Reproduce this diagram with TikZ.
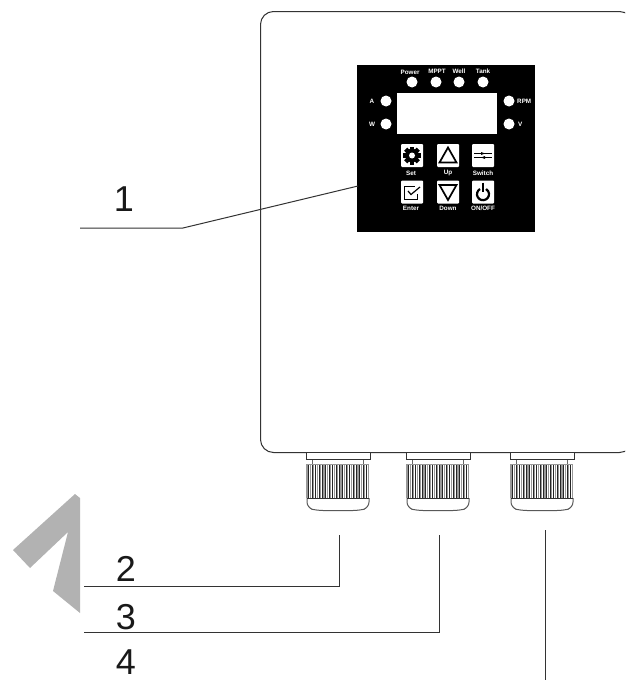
\documentclass[tikz,border=0pt]{standalone}
\usepackage{fontspec}
\setmainfont{Liberation Sans}
\usetikzlibrary{calc}
\definecolor{linegray}{gray}{0.2}
\definecolor{knurlgray}{gray}{0.6}
\tikzstyle{leader} = [line width=1pt, draw=linegray]
\tikzstyle{outline} = [line width=1pt, draw=black!80]
\tikzstyle{led} = [circle, fill=white, inner sep=0pt, minimum size=11pt]
\tikzstyle{button} = [rectangle, rounded corners=1pt, fill=white, inner sep=0pt, minimum width=22pt, minimum height=23pt]
\tikzstyle{paneltext} = [text=white, font=\fontsize{6.3}{6.3}\selectfont\bfseries, inner sep=0pt]
\tikzstyle{number} = [text=black!90, font=\fontsize{36}{36}\selectfont, inner sep=0pt]
\tikzstyle{flange} = [rectangle, outline, fill=white, inner sep=0pt, minimum width=64pt, minimum height=7pt]
\begin{document}
\begin{tikzpicture}[x=1pt, y=-1pt]
    \useasboundingbox (0,0) rectangle (625,680);

    %watermark
    \fill [black!30] (75,494) -- (80,498) -- (80,613) -- (53,591) -- (68,532) -- (30,568) -- (13,550) -- cycle;

    %housing
    \begin{scope}
    \clip (0,0) rectangle (625,680);
    \node (housing) [outline, draw, rounded corners=13pt, minimum width=372pt, minimum height=441pt, anchor=north west, inner sep=0pt] at (260,11) {};
    \end{scope}

    %panel
    \node (panel) [rectangle, fill=black, inner sep=0pt, minimum width=178pt, minimum height=167pt, anchor=north west] at (357,65) {};
    \node (display) [rectangle, fill=white, inner sep=0pt, minimum width=100pt, minimum height=41pt, anchor=north west] at (397,93) {};

    %leds
    \node (ledpower) [led] at (412,82) {};
    \node (ledmppt) [led] at (436,82) {};
    \node (ledwell) [led] at (459,82) {};
    \node (ledtank) [led] at (483,82) {};
    \node (leda) [led] at (386,101) {};
    \node (ledw) [led] at (386,124) {};
    \node (ledrpm) [led] at (509,101) {};
    \node (ledv) [led] at (509,124) {};
    \node [paneltext] at (410,72) {Power};
    \node [paneltext] at (437,71.5) {MPPT};
    \node [paneltext] at (459,71) {Well};
    \node [paneltext] at (483,71) {Tank};
    \node [paneltext] at (372,101) {A};
    \node [paneltext] at (372,124) {W};
    \node [paneltext, anchor=west] at (517,101) {RPM};
    \node [paneltext, anchor=west] at (518,124) {V};

    %buttons
    \node (btnset) [button] at (412,155.5) {};
    \node (btnup) [button] at (448,155.5) {};
    \node (btnswitch) [button] at (483,155.5) {};
    \node (btnenter) [button] at (412,192) {};
    \node (btndown) [button] at (448,192) {};
    \node (btnpower) [button] at (483,192) {};
    \node [paneltext] at (411,173) {Set};
    \node [paneltext] at (448,173) {Up};
    \node [paneltext] at (483,173) {Switch};
    \node [paneltext] at (411,208.5) {Enter};
    \node [paneltext] at (448,208.5) {Down};
    \node [paneltext] at (483,208.5) {ON/OFF};

    %button icons
    \foreach \a in {0,45,...,315}
        \fill [black, rotate around={\a:(btnset.center)}] ($(btnset.center)+(-2.2,-9)$) rectangle ($(btnset.center)+(2.2,0)$);
    \fill [black] (btnset.center) circle (6.8pt);
    \fill [white] (btnset.center) circle (3pt);
    \draw [line width=1.7pt, black] ($(btnup.center)+(0,-8)$) -- ($(btnup.center)+(8.5,7)$) -- ($(btnup.center)+(-8.5,7)$) -- cycle;
    \draw [line width=1.7pt, black] ($(btndown.center)+(0,8)$) -- ($(btndown.center)+(8.5,-7)$) -- ($(btndown.center)+(-8.5,-7)$) -- cycle;
    \draw [line width=0.7pt, black] ($(btnswitch.center)+(-9,-2)$) -- ($(btnswitch.center)+(9,-2)$);
    \draw [line width=0.7pt, black] ($(btnswitch.center)+(-9,2)$) -- ($(btnswitch.center)+(9,2)$);
    \fill [black] ($(btnswitch.center)+(2,-2)$) -- ($(btnswitch.center)+(-2,-3.5)$) -- ($(btnswitch.center)+(-2,-0.5)$) -- cycle;
    \fill [black] ($(btnswitch.center)+(-2,2)$) -- ($(btnswitch.center)+(2,0.5)$) -- ($(btnswitch.center)+(2,3.5)$) -- cycle;
    \draw [line width=0.9pt, black] ($(btnenter.center)+(5,2)$) -- ($(btnenter.center)+(5,7)$) -- ($(btnenter.center)+(-8,7)$) -- ($(btnenter.center)+(-8,-6)$) -- ($(btnenter.center)+(3,-6)$);
    \draw [line width=1.2pt, black] ($(btnenter.center)+(-4,-1)$) -- ($(btnenter.center)+(-1,2.5)$) -- ($(btnenter.center)+(8,-5)$);
    \draw [line width=2.2pt, black] ($(btnpower.center)+(-3,-3)$) arc[start angle=120, end angle=420, radius=6pt];
    \draw [line width=2.2pt, black] ($(btnpower.center)+(0,-9.5)$) -- (btnpower.center);

    %glands
    \foreach \name/\x in {a/338,b/438,c/542} {
        \draw [outline, draw=black!65, rounded corners=6pt] (\x-31,498) -- (\x-31,508) -- (\x-21,510.5) -- (\x+21,510.5) -- (\x+31,508) -- (\x+31,498);
        \foreach \dx in {-31,-27.6,...,31.5}
            \draw [line width=1.3pt, knurlgray] (\x+\dx,464) -- (\x+\dx,498);
        \foreach \dx in {-29.3,-25.9,...,30}
            \draw [line width=0.7pt, black!85] (\x+\dx,464) -- (\x+\dx,498);
        \draw [outline] (\x-31,498) -- (\x+31,498);
        \draw [outline, draw=knurlgray] (\x-31,464) -- (\x+31,464);
        \draw [line width=0.8pt, black!60] (\x-25.5,459) -- (\x-25.5,464) (\x+25.5,459) -- (\x+25.5,464);
        \node (flange\name) [flange] at (\x,455.5) {};
    }

    %leaders
    \coordinate (end1) at (358,186);
    \coordinate (end2) at (339,535);
    \coordinate (end3) at (439,535);
    \coordinate (end4) at (545,530);
    \coordinate (start1) at (80,228);
    \coordinate (start2) at (84,586);
    \coordinate (start3) at (84,632);
    \coordinate (start4) at (545,680);
    \draw [leader] (start1) -- (183,228) -- (end1);
    \draw [leader] (start2) -| (end2);
    \draw [leader] (start3) -| (end3);
    \draw [leader] (start4) -- (end4);

    %numbers
    \node (num1) [number] at (124,199) {1};
    \node (num2) [number] at (126,569) {2};
    \node (num3) [number] at (126,617) {3};
    \node (num4) [number] at (126,662) {4};
\end{tikzpicture}
\end{document}
